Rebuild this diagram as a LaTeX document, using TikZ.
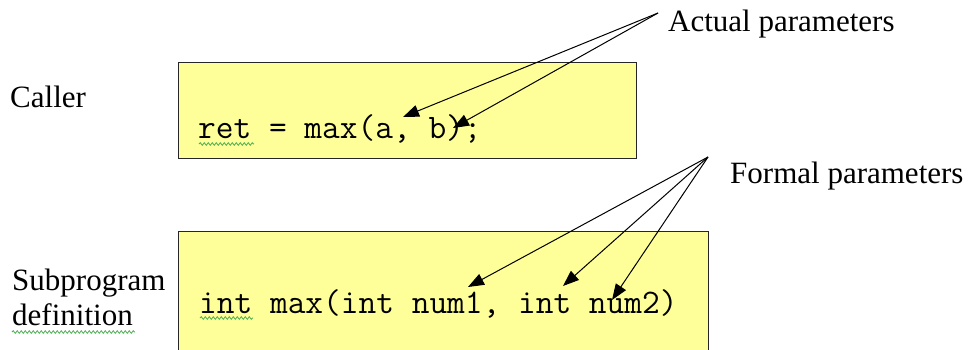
\documentclass[tikz,border=0pt]{standalone}
\usepackage{fontspec}
\setmainfont{Liberation Serif}
\usetikzlibrary{arrows.meta,decorations.pathmorphing}
\definecolor{boxyellow}{HTML}{FFFF99}
\definecolor{wavy}{HTML}{4CAF50}
\begin{document}
\begin{tikzpicture}[x=1pt,y=-1pt,
  codebox/.style={draw=black!85,line width=1.4pt,fill=boxyellow,inner sep=0pt,anchor=north west},
  lbl/.style={font=\fontsize{31}{35}\selectfont,anchor=base west,inner sep=0pt},
  code/.style={font=\fontsize{34.4}{37}\selectfont\ttfamily,anchor=base west,inner sep=0pt},
  ptr/.style={draw=black,line width=1pt,-{Triangle[length=16pt,width=12pt]}},
  spell/.style={draw=wavy,line width=0.8pt,decorate,decoration={snake,amplitude=1.3pt,segment length=4pt}}]
\clip (0,0) rectangle (971,349);
\fill[white] (0,0) rectangle (971,349);
% boxes
\node[codebox, minimum width=458pt, minimum height=96pt] (callerbox) at (178,62) {};
\node[codebox, minimum width=530pt, minimum height=150pt] (defbox) at (178,231) {};
% labels
\node[lbl] (callerlbl) at (10,107) {Caller};
\node[lbl] (sub1) at (12,290) {Subprogram};
\node[lbl] (sub2) at (12,325) {definition};
\node[lbl] (actual) at (668,31) {Actual parameters};
\node[lbl] (formal) at (730,183) {Formal parameters};
% code
\node[code] (callcode) at (198,138) {ret = max(a, b);};
\node[code] (defcode) at (199,313) {int max(int num1, int num2)};
% spell-check underlines
\draw[spell] (199,144) -- (254,144);
\draw[spell] (200,318) -- (253,318);
\draw[spell] (12,332) -- (135,332);
% arrows
\coordinate (asrc) at (658,13);
\coordinate (aa) at (403,117);
\coordinate (ab) at (453,128);
\coordinate (fsrc) at (708,157);
\coordinate (f1) at (468,287);
\coordinate (f2) at (563,286);
\coordinate (f3) at (612,300);
\draw[ptr] (asrc) -- (aa);
\draw[ptr] (asrc) -- (ab);
\draw[ptr] (fsrc) -- (f1);
\draw[ptr] (fsrc) -- (f2);
\draw[ptr] (fsrc) -- (f3);
\end{tikzpicture}
\end{document}
